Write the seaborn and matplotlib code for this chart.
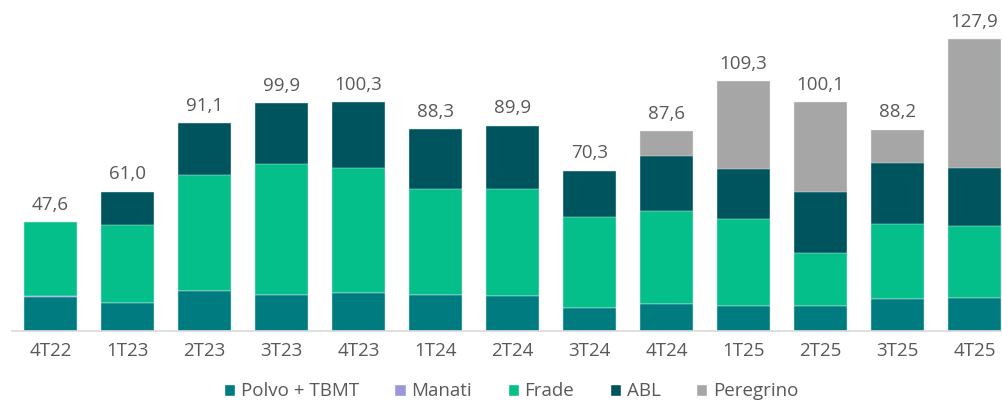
import numpy as np
import pandas as pd
import seaborn as sns
import matplotlib.pyplot as plt
from matplotlib.patches import Patch

# --------------------------------------------------------------------------- #
# Data
quarters = ["4T22", "1T23", "2T23", "3T23", "4T23", "1T24", "2T24",
            "3T24", "4T24", "1T25", "2T25", "3T25", "4T25"]
polvo = [15.0, 12.3, 17.5, 15.9, 16.5, 15.9, 15.2, 10.1, 11.7, 11.0, 11.0, 13.9, 14.3]
manati = [0.5, 0, 0, 0, 0, 0, 0, 0, 0, 0, 0, 0, 0]
frade = [32.1, 34.0, 50.8, 57.2, 55.0, 46.3, 47.0, 39.8, 41.0, 38.1, 23.0, 33.1, 31.8]
abl = [0, 14.7, 22.8, 26.8, 28.8, 26.1, 27.7, 20.4, 24.0, 21.7, 26.7, 26.7, 25.4]
peregrino = [0, 0, 0, 0, 0, 0, 0, 0, 10.9, 38.5, 39.4, 14.5, 56.4]
totals = [47.6, 61.0, 91.1, 99.9, 100.3, 88.3, 89.9, 70.3, 87.6, 109.3, 100.1, 88.2, 127.9]

series = ["Polvo + TBMT", "Manati", "Frade", "ABL", "Peregrino"]
colors = ["#007C80", "#9B97D9", "#04BF8A", "#00545E", "#A6A6A6"]

df = pd.DataFrame({"quarter": quarters, "Polvo + TBMT": polvo, "Manati": manati,
                   "Frade": frade, "ABL": abl, "Peregrino": peregrino})

# --------------------------------------------------------------------------- #
sns.set_theme(style="white")
plt.rcParams["font.family"] = ["Open Sans", "DejaVu Sans"]
text_col = "#595959"

fig = plt.figure(figsize=(10.02, 4.01), dpi=100)
ax = fig.add_axes([12 / 1002, 70 / 401, 990 / 1002, 319.6 / 401])

# stacked bars: draw cumulative heights, top layer first
cum = df[series].cumsum(axis=1)
for name, col in reversed(list(zip(series, colors))):
    sns.barplot(data=cum.assign(quarter=df["quarter"]), x="quarter", y=name,
                color=col, width=0.69, edgecolor="#E8F4F2", linewidth=0.3,
                saturation=1, ax=ax)

for i, t in enumerate(totals):
    ax.annotate(f"{t:.1f}".replace(".", ","), (i, t), xytext=(0, 6),
                textcoords="offset points", ha="center", va="bottom",
                fontsize=13.5, color=text_col)

ax.set(xlim=(-0.5, -0.5 + 990 / 77), ylim=(0, 140), xlabel="", ylabel="")
ax.set_yticks([])
sns.despine(ax=ax, left=True)
ax.spines["bottom"].set_color("#D9D9D9")
ax.spines["bottom"].set_linewidth(1.2)
ax.tick_params(axis="x", length=0, pad=8, labelsize=13.5, labelcolor=text_col)

handles = [Patch(facecolor=c, label=s) for s, c in zip(series, colors)]
fig.legend(handles=handles, loc="center", bbox_to_anchor=(0.51, 0.024), ncol=5,
           frameon=False, fontsize=13.5, labelcolor=text_col, handlelength=0.6,
           handleheight=0.6, handletextpad=0.3, columnspacing=1.9)

fig.savefig("out.png", dpi=100)
